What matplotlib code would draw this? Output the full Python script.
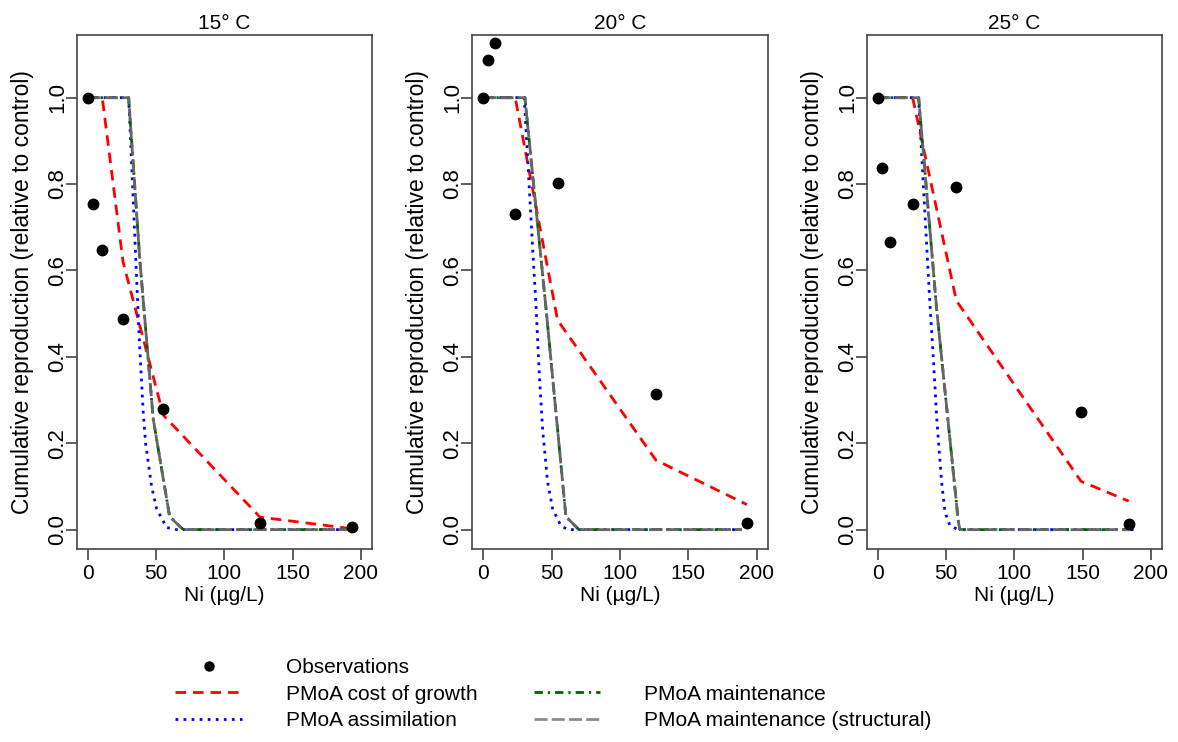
import matplotlib
matplotlib.use("Agg")
import matplotlib.pyplot as plt
from matplotlib.lines import Line2D

plt.rcParams['font.family'] = ['Liberation Sans', 'DejaVu Sans']

titles = ["15° C", "20° C", "25° C"]

# Observations (Ni concentration, relative cumulative reproduction)
obs_x_15 = [0, 4.1, 10.7, 25.9, 55.4, 126.1, 193.6]
obs_y_15 = [1.0, 0.754, 0.648, 0.488, 0.279, 0.015, 0.005]
obs_x_20 = [0, 3.7, 8.8, 23.4, 54.4, 126.3, 192.9]
obs_y_20 = [1.0, 1.087, 1.127, 0.730, 0.803, 0.315, 0.016]
obs_x_25 = [0, 3.4, 9.0, 25.6, 57.6, 148.8, 183.7]
obs_y_25 = [1.0, 0.838, 0.665, 0.754, 0.794, 0.273, 0.0135]

# PMoA cost of growth
growth_x_15 = [0, 4.1, 10.7, 25.9, 55.4, 126.1, 193.6]
growth_y_15 = [1.0, 1.0, 1.0, 0.62, 0.265, 0.029, 0.002]
growth_x_20 = [0, 3.7, 8.8, 23.4, 54.4, 126.3, 192.9]
growth_y_20 = [1.0, 1.0, 1.0, 1.0, 0.485, 0.161, 0.058]
growth_x_25 = [0, 3.4, 9.0, 25.6, 57.6, 148.8, 183.7]
growth_y_25 = [1.0, 1.0, 1.0, 1.0, 0.53, 0.112, 0.066]

# PMoA assimilation
assim_x_15 = [0, 30, 31.8, 35.3, 37.8, 40.7, 42.4, 46.8, 50.5, 57.8, 65, 192]
assim_y_15 = [1.0, 1.0, 0.875, 0.62, 0.44, 0.27, 0.20, 0.10, 0.048, 0.005, 0.0, 0.0]
assim_x_20 = [0, 30, 33, 36, 38.6, 41, 43.5, 47.1, 50.8, 56.8, 62, 189]
assim_y_20 = [1.0, 1.0, 0.83, 0.66, 0.52, 0.36, 0.23, 0.11, 0.048, 0.009, 0.0, 0.0]
assim_x_25 = [0, 30, 33.4, 38.3, 40.7, 43.2, 46.8, 49.3, 52.9, 59, 190]
assim_y_25 = [1.0, 1.0, 0.80, 0.52, 0.40, 0.26, 0.11, 0.04, 0.009, 0.0, 0.0]

# PMoA maintenance (and maintenance structural, nearly identical)
maint_x_15 = [0, 30, 38.3, 48, 60, 70, 192]
maint_y_15 = [1.0, 1.0, 0.62, 0.256, 0.03, 0.0, 0.0]
maint_x_20 = [0, 30.5, 46, 60.5, 70, 189]
maint_y_20 = [1.0, 1.0, 0.51, 0.03, 0.0, 0.0]
maint_x_25 = [0, 30, 43.2, 59, 60.2, 185]
maint_y_25 = [1.0, 1.0, 0.51, 0.02, 0.0, 0.0]

panels = [
    (obs_x_15, obs_y_15, growth_x_15, growth_y_15, assim_x_15, assim_y_15, maint_x_15, maint_y_15),
    (obs_x_20, obs_y_20, growth_x_20, growth_y_20, assim_x_20, assim_y_20, maint_x_20, maint_y_20),
    (obs_x_25, obs_y_25, growth_x_25, growth_y_25, assim_x_25, assim_y_25, maint_x_25, maint_y_25),
]

x_ticks = [0, 50, 100, 150, 200]
y_ticks = [0.0, 0.2, 0.4, 0.6, 0.8, 1.0]

RED = "#ff0000"
BLUE = "#0000ff"
GREEN = "#006400"
GRAY_PLOT = "#666666"
GRAY_LEG = "#8c8c8c"
LW = 2.0
red_dash = (3.8, 2.5)
blue_dash = (1.0, 1.9)
green_dash = (3.0, 1.8, 0.8, 1.8)
gray_dash = (4.7, 1.5)

FS = 15
FS_V = 16.5

fig = plt.figure(figsize=(11.78, 7.42), dpi=100)
lefts = [76.7 / 1178, 472.3 / 1178, 866.7 / 1178]
for i, (ox, oy, gx, gy, ax_, ay_, mx, my) in enumerate(panels):
    ax = fig.add_axes([lefts[i], 0.2606, 0.2506, 0.6916])
    ax.plot(gx, gy, color=RED, lw=LW, dashes=red_dash)
    ax.plot(ax_, ay_, color=BLUE, lw=LW, dashes=blue_dash)
    ax.plot(mx, my, color=GREEN, lw=LW, dashes=green_dash)
    ax.plot(mx, my, color=GRAY_PLOT, lw=LW, dashes=gray_dash)
    ax.plot(ox, oy, 'o', color='black', ms=7.5, zorder=5)
    ax.set_xlim(-8, 208)
    ax.set_ylim(-0.044, 1.144)
    ax.set_xticks(x_ticks)
    ax.set_xticklabels([str(t) for t in x_ticks], fontsize=FS)
    ax.set_yticks(y_ticks)
    ax.set_yticklabels([f"{t:.1f}" for t in y_ticks], rotation=90,
                       va='center', ha='center', fontsize=FS_V - 0.5)
    ax.tick_params(axis='both', direction='out', length=8, width=1.1,
                   colors='#333333', labelcolor='black')
    ax.tick_params(axis='x', pad=3)
    ax.tick_params(axis='y', pad=6)
    for s in ax.spines.values():
        s.set_color('#444444')
        s.set_linewidth(1.2)
    ax.set_title(titles[i], fontsize=FS, pad=5)
    ax.set_xlabel("Ni (\u00b5g/L)", fontsize=FS, labelpad=2)
    ax.set_ylabel("Cumulative reproduction (relative to control)",
                  fontsize=FS_V, va='center')
    ax.yaxis.set_label_coords(-0.185, 0.5)

handles = [
    Line2D([], [], ls='none', marker='o', color='black', ms=6.5),
    Line2D([], [], color=RED, lw=LW, dashes=red_dash),
    Line2D([], [], color=BLUE, lw=LW, dashes=blue_dash),
    Line2D([], [], ls='none'),
    Line2D([], [], color=GREEN, lw=LW, dashes=green_dash),
    Line2D([], [], color=GRAY_LEG, lw=LW, dashes=gray_dash),
]
labels = ["Observations", "PMoA cost of growth", "PMoA assimilation",
          "", "PMoA maintenance", "PMoA maintenance (structural)"]
fig.legend(handles, labels, ncol=2, frameon=False, fontsize=FS,
           loc='upper left', bbox_to_anchor=(165 / 1178, 1 - 648 / 742),
           handlelength=3.2, handletextpad=2.1, columnspacing=2.7,
           labelspacing=0.35, borderpad=0)

fig.savefig("out.png", dpi=100)
